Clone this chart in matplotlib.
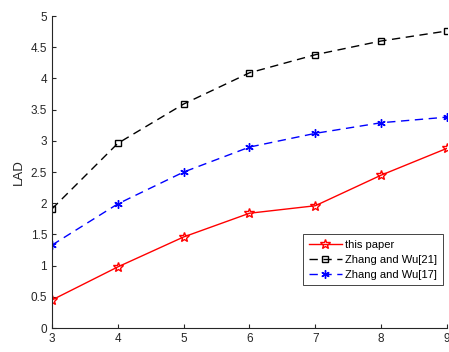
import numpy as np
import matplotlib
matplotlib.use('Agg')
import matplotlib.pyplot as plt

plt.rcParams['font.family'] = ['Liberation Sans', 'DejaVu Sans']

# Data
x = [3, 4, 5, 6, 7, 8, 9]
this_paper = [0.45, 0.98, 1.46, 1.84, 1.96, 2.45, 2.88]
zhang_wu21 = [1.91, 2.96, 3.59, 4.09, 4.38, 4.60, 4.76]
zhang_wu17 = [1.33, 1.99, 2.50, 2.90, 3.12, 3.29, 3.38]
yticks = [0, 0.5, 1, 1.5, 2, 2.5, 3, 3.5, 4, 4.5, 5]
yticklabels = ['0', '0.5', '1', '1.5', '2', '2.5', '3', '3.5', '4', '4.5', '5']

fig = plt.figure(figsize=(4.49, 3.52), dpi=100)
ax = fig.add_axes([0.1158, 0.068, 0.8797, 0.8865])

ax.plot(x, this_paper, color='red', linestyle='-', marker='*', markersize=7,
        markerfacecolor='none', markeredgewidth=1, linewidth=1, label='this paper')
ax.plot(x, zhang_wu21, color='black', linestyle=(0, (6, 4)), marker='s', markersize=5,
        markerfacecolor='none', markeredgewidth=1, linewidth=1, label='Zhang and Wu[21]')
ax.plot(x, zhang_wu17, color='blue', linestyle=(0, (6, 4)), marker=(6, 2, 0), markersize=6,
        markeredgewidth=1, linewidth=1, label='Zhang and Wu[17]')

ax.set_xlim(3, 9)
ax.set_ylim(0, 5)
ax.set_xticks(x)
ax.set_yticks(yticks)
ax.set_yticklabels(yticklabels)
ax.set_ylabel('LAD', fontsize=9.5, color='#262626')
ax.tick_params(direction='in', length=3, labelsize=8.5, colors='#262626', width=0.8)
ax.spines['top'].set_visible(False)
ax.spines['right'].set_visible(False)
for s in ['left', 'bottom']:
    ax.spines[s].set_color('#262626')
    ax.spines[s].set_linewidth(0.8)

leg = ax.legend(loc='lower right', bbox_to_anchor=(1.004, 0.12), fontsize=8,
                fancybox=False, framealpha=1, edgecolor='#262626',
                handlelength=3.0, borderpad=0.5, labelspacing=0.45, handletextpad=0.3)
leg.get_frame().set_linewidth(0.6)

fig.savefig('out.png', dpi=100)
